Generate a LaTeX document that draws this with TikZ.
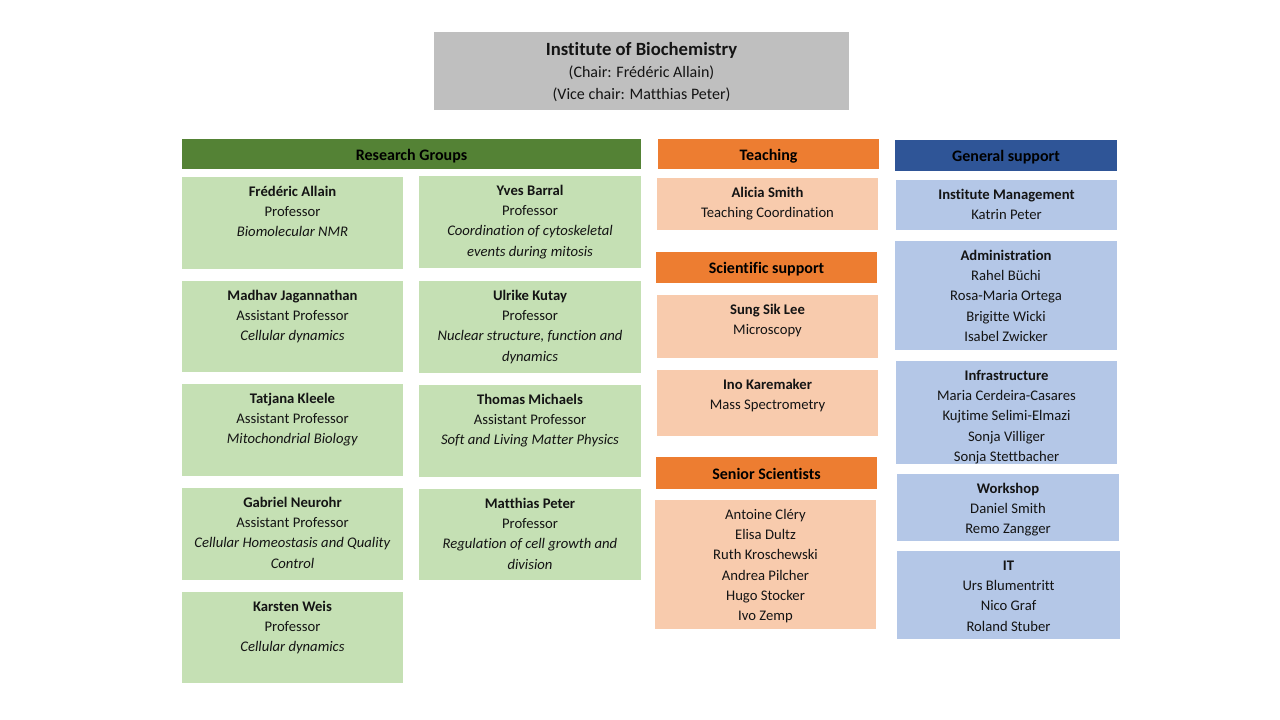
\documentclass[tikz,border=0pt]{standalone}
\usepackage{fontspec}
\setmainfont[Ligatures={NoCommon}]{Carlito}
\definecolor{tgray}{HTML}{BFBFBF}
\definecolor{dgreen}{HTML}{548235}
\definecolor{lgreen}{HTML}{C5E0B4}
\definecolor{dorange}{HTML}{ED7D31}
\definecolor{lorange}{HTML}{F8CBAD}
\definecolor{dblue}{HTML}{2F5597}
\definecolor{lblue}{HTML}{B4C7E7}
\definecolor{txtc}{HTML}{141414}
\tikzset{
  boxsty/.style={inner sep=0pt, outer sep=0pt, draw=none},
  txtsty/.style={inner sep=0pt, outer sep=0pt, align=center, text=txtc,
    font=\fontsize{11}{15.25}\selectfont},
  hdrsty/.style={inner sep=0pt, outer sep=0pt, align=center, text=black,
    text height=9.5pt, text depth=0.3pt,
    font=\fontsize{12}{14}\selectfont\bfseries}
}
% name, x1, y1, x2, y2, fill, text
\newcommand\orgbox[7]{%
  \node[boxsty, fill=#6, minimum width={(#4-#2)*0.75pt}, minimum height={(#5-#3)*0.75pt}]
    (#1) at ({(#2+#4)/2},{(#3+#5)/2}) {};
  \node[txtsty, anchor=north] (#1-t) at ({(#2+#4)/2},{#3+5}) {\strut #7};
}
\newcommand\hdrbox[7]{%
  \node[boxsty, hdrsty, fill=#6, minimum width={(#4-#2)*0.75pt}, minimum height={(#5-#3)*0.75pt}]
    (#1) at ({(#2+#4)/2},{(#3+#5)/2}) {#7};
}
\begin{document}
\begin{tikzpicture}[x=0.75pt,y=-0.75pt]
\useasboundingbox (0,0) rectangle (1280,720);
\fill[white] (0,0) rectangle (1280,720);

% title
\node[boxsty, fill=tgray, minimum width={(849-434)*0.75pt}, minimum height={(110-32)*0.75pt}]
  (title) at ({(434+849)/2},{(32+110)/2}) {};
\node[txtsty, anchor=north, font=\fontsize{12}{16.5}\selectfont] (title-t) at ({(434+849)/2},40.5)
  {\strut{\fontsize{14}{16.5}\selectfont\bfseries Institute of Biochemistry}\\(Chair: Frédéric Allain)\\(Vice chair: Matthias Peter)};

% Research groups
\hdrbox{rg}{182}{139}{641}{169}{dgreen}{Research Groups}
\orgbox{allain}{182}{177}{403}{269}{lgreen}{\textbf{Frédéric Allain}\\Professor\\\textit{Biomolecular NMR}}
\orgbox{jag}{182}{281}{403}{372}{lgreen}{\textbf{Madhav Jagannathan}\\Assistant Professor\\\textit{Cellular dynamics}}
\orgbox{kleele}{182}{384}{403}{476}{lgreen}{\textbf{Tatjana Kleele}\\Assistant Professor\\\textit{Mitochondrial Biology}}
\orgbox{neurohr}{182}{488}{403}{580}{lgreen}{\textbf{Gabriel Neurohr}\\Assistant Professor\\\textit{Cellular Homeostasis and Quality}\\\textit{Control}}
\orgbox{weis}{182}{592}{403}{683}{lgreen}{\textbf{Karsten Weis}\\Professor\\\textit{Cellular dynamics}}
\orgbox{barral}{419}{176}{641}{268}{lgreen}{\textbf{Yves Barral}\\Professor\\\textit{Coordination of cytoskeletal}\\\textit{events during mitosis}}
\orgbox{kutay}{419}{281}{641}{373}{lgreen}{\textbf{Ulrike Kutay}\\Professor\\\textit{Nuclear structure, function and}\\\textit{dynamics}}
\orgbox{michaels}{419}{385}{641}{477}{lgreen}{\textbf{Thomas Michaels}\\Assistant Professor\\\textit{Soft and Living Matter Physics}}
\orgbox{peter}{419}{489}{641}{580}{lgreen}{\textbf{Matthias Peter}\\Professor\\\textit{Regulation of cell growth and}\\\textit{division}}

% Teaching / scientific support / senior scientists
\hdrbox{teach}{658}{139}{879}{169}{dorange}{Teaching}
\orgbox{smith}{657}{178}{878}{230}{lorange}{\textbf{Alicia Smith}\\Teaching Coordination}
\hdrbox{sci}{656}{252}{877}{283}{dorange}{Scientific support}
\orgbox{lee}{657}{295}{878}{358}{lorange}{\textbf{Sung Sik Lee}\\Microscopy}
\orgbox{karemaker}{657}{370}{878}{436}{lorange}{\textbf{Ino Karemaker}\\Mass Spectrometry}
\hdrbox{senhdr}{656}{457}{877}{489}{dorange}{Senior Scientists}
\orgbox{senior}{655}{500}{876}{629}{lorange}{Antoine Cléry\\Elisa Dultz\\Ruth Kroschewski\\Andrea Pilcher\\Hugo Stocker\\Ivo Zemp}

% General support
\hdrbox{gen}{895}{140}{1117}{171}{dblue}{General support}
\orgbox{mgmt}{896}{180}{1117}{230}{lblue}{\textbf{Institute Management}\\Katrin Peter}
\orgbox{admin}{895}{241}{1117}{350}{lblue}{\textbf{Administration}\\Rahel Büchi\\Rosa-Maria Ortega\\Brigitte Wicki\\Isabel Zwicker}
\orgbox{infra}{896}{361}{1117}{464}{lblue}{\textbf{Infrastructure}\\Maria Cerdeira-Casares\\Kujtime Selimi-Elmazi\\Sonja Villiger\\Sonja Stettbacher}
\orgbox{workshop}{897}{474}{1119}{541}{lblue}{\textbf{Workshop}\\Daniel Smith\\Remo Zangger}
\orgbox{it}{897}{551}{1120}{639}{lblue}{\textbf{IT}\\Urs Blumentritt\\Nico Graf\\Roland Stuber}
\end{tikzpicture}
\end{document}
